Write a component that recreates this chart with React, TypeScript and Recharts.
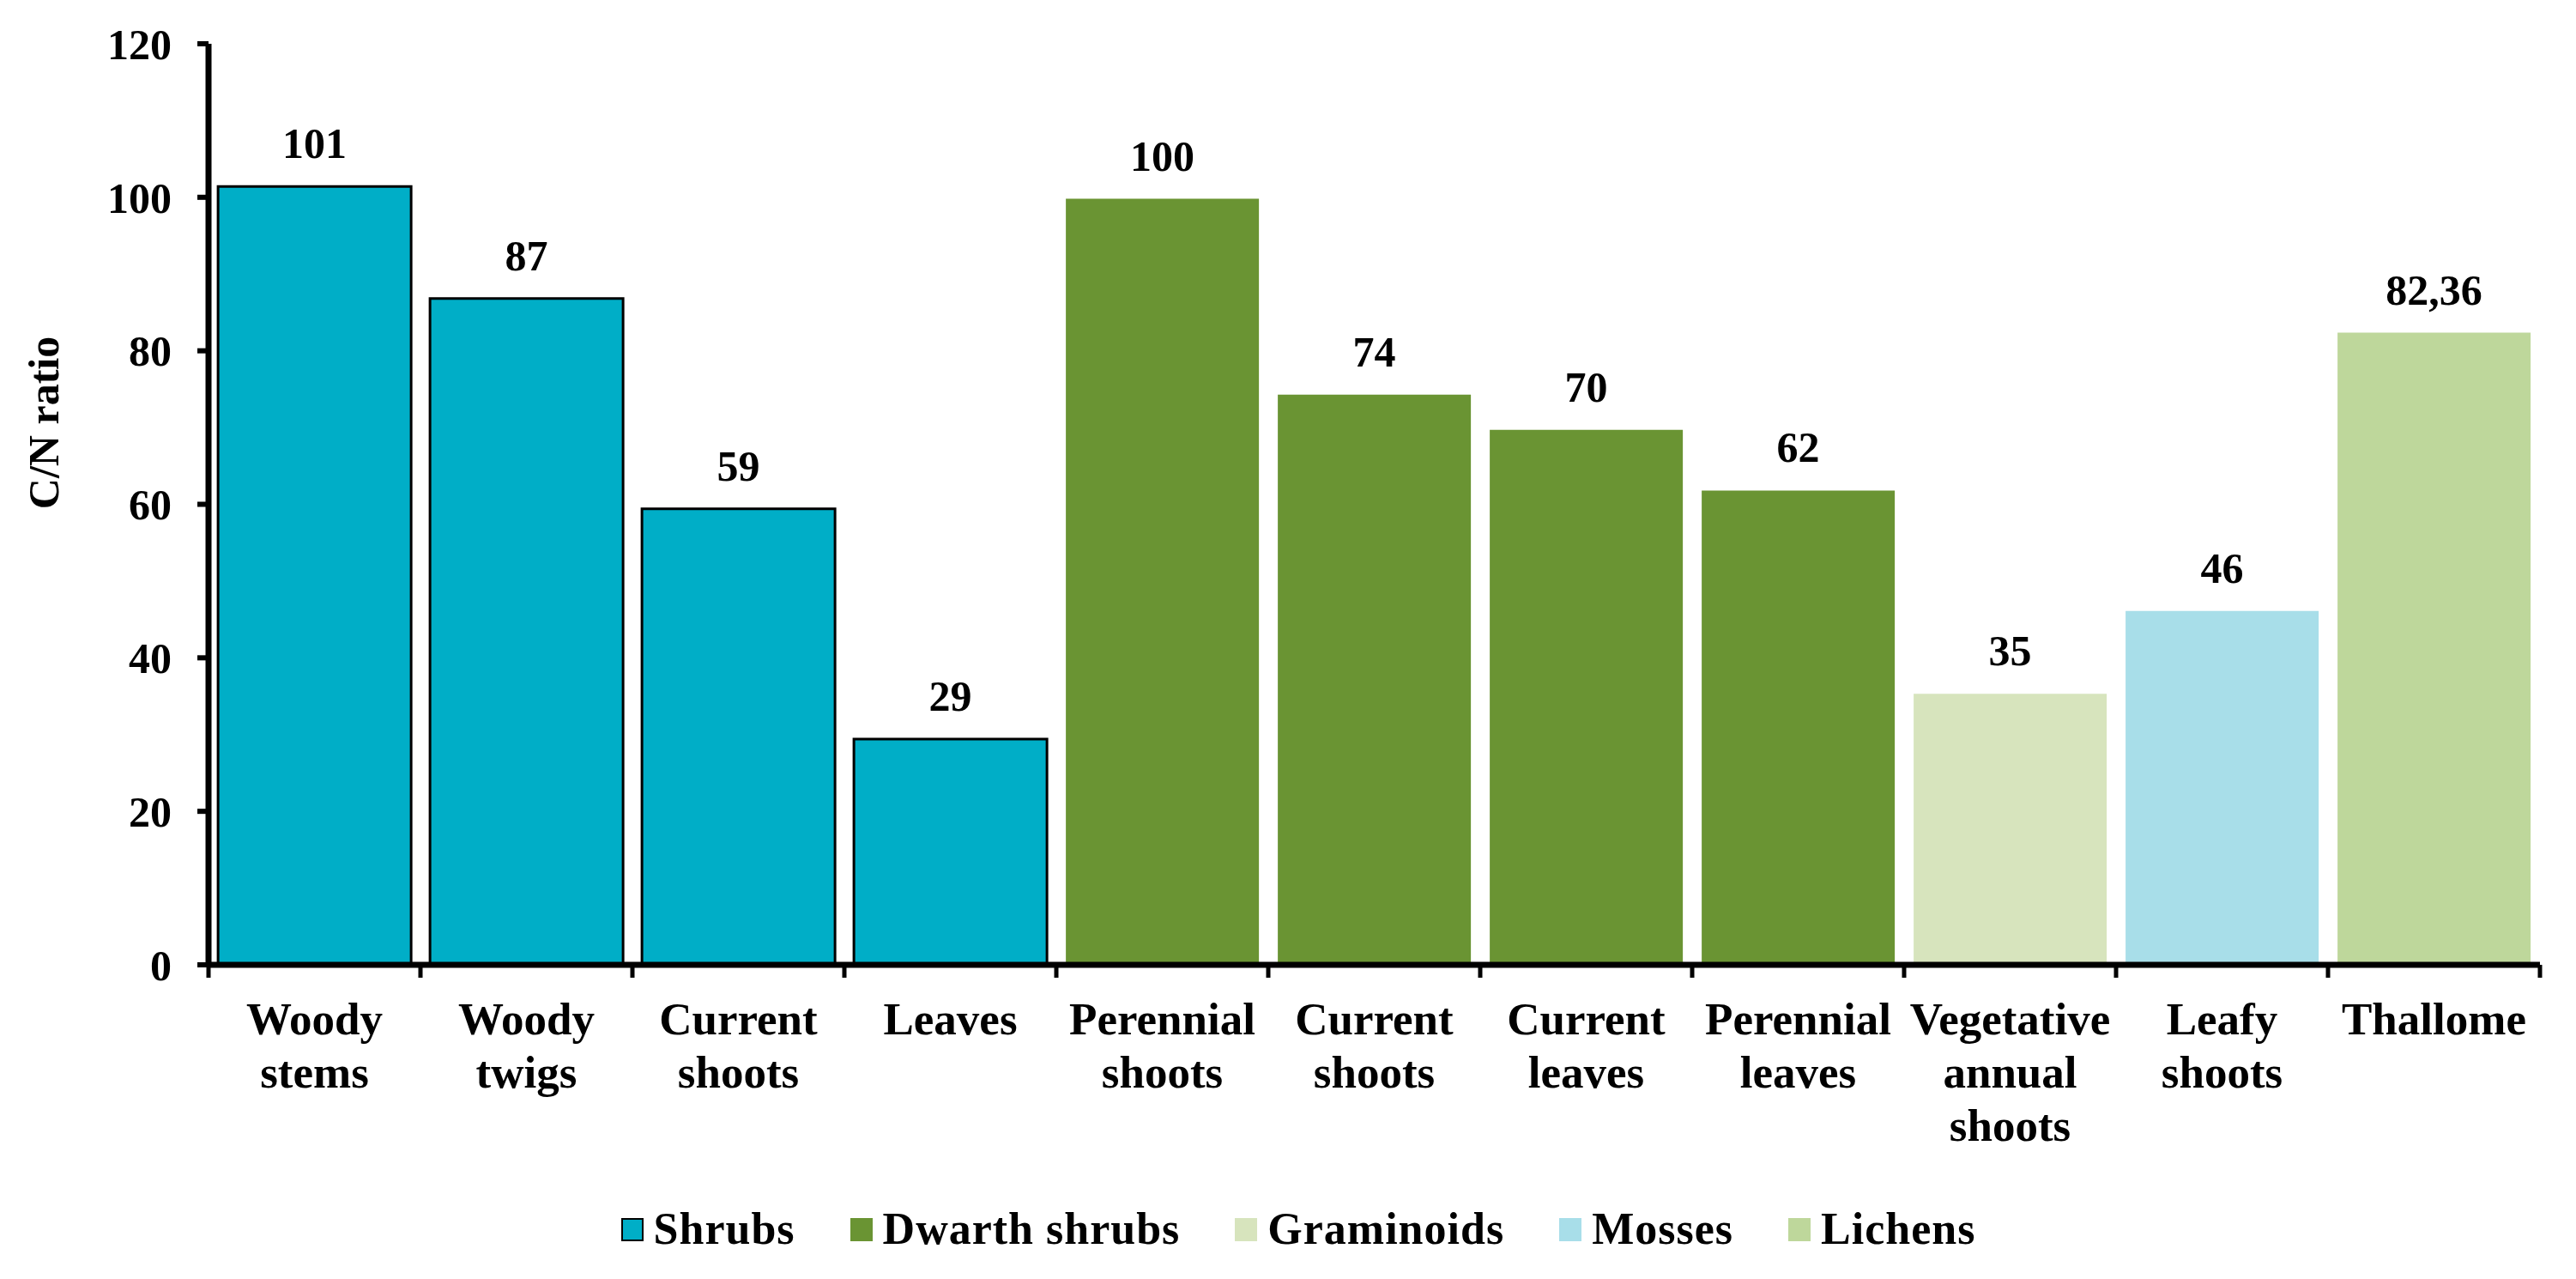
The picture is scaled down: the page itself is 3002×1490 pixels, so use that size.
import React from 'react';
import { BarChart, Bar, XAxis, YAxis, Cell, LabelList, Legend } from 'recharts';

const categories = [
  'Woody\nstems',
  'Woody\ntwigs',
  'Current\nshoots',
  'Leaves',
  'Perennial\nshoots',
  'Current\nshoots',
  'Current\nleaves',
  'Perennial\nleaves',
  'Vegetative\nannual\nshoots',
  'Leafy\nshoots',
  'Thallome',
];
const values = [101.4, 86.8, 59.4, 29.4, 99.8, 74.3, 69.7, 61.8, 35.3, 46.1, 82.36];
const valueLabels = ['101', '87', '59', '29', '100', '74', '70', '62', '35', '46', '82,36'];
const groupOf = [0, 0, 0, 0, 1, 1, 1, 1, 2, 3, 4];
const groupNames = ['Shrubs', 'Dwarth shrubs', 'Graminoids', 'Mosses', 'Lichens'];
const groupColors = ['#00AEC7', '#6A9433', '#D7E4BD', '#A8DEE9', '#BED79B'];
const groupOutline = ['#000000', 'none', 'none', 'none', 'none'];
const yTicks = [0, 20, 40, 60, 80, 100, 120];

const FONT = '"Liberation Serif", "Times New Roman", serif';

const data = categories.map((name, i) => ({
  name,
  value: values[i],
  label: valueLabels[i],
  group: groupOf[i],
}));

const XTick = (props: any) => {
  const { x, y, payload, index } = props;
  const lines = String(payload.value).split('\n');
  const half = typeof payload.offset === 'number' ? payload.offset : 123;
  const axisY = y - 16;
  return (
    <g>
      <line x1={x - half} x2={x - half} y1={axisY} y2={axisY + 15} stroke="#000" strokeWidth={5} />
      {index === categories.length - 1 && (
        <line x1={x + half} x2={x + half} y1={axisY} y2={axisY + 15} stroke="#000" strokeWidth={5} />
      )}
      <text
        x={x}
        y={y + 65}
        textAnchor="middle"
        fontFamily={FONT}
        fontWeight="bold"
        fontSize={53}
        fill="#000"
      >
        {lines.map((l, i) => (
          <tspan key={i} x={x} dy={i === 0 ? 0 : 62}>
            {l}
          </tspan>
        ))}
      </text>
    </g>
  );
};

const YLabel = (props: any) => {
  const vb = props.viewBox || { x: 0, y: 0, width: 0, height: 0 };
  const cx = vb.x + 60;
  const cy = vb.y + vb.height / 2 - 95;
  return (
    <text
      x={cx}
      y={cy}
      transform={`rotate(-90, ${cx}, ${cy})`}
      textAnchor="middle"
      fontFamily={FONT}
      fontWeight="bold"
      fontSize={50}
      fill="#000"
    >
      C/N ratio
    </text>
  );
};

const LegendContent = () => (
  <div
    style={{
      height: 118,
      display: 'flex',
      justifyContent: 'center',
      alignItems: 'flex-start',
      paddingTop: 40,
      paddingLeft: 58,
      boxSizing: 'border-box',
      fontFamily: FONT,
      fontWeight: 'bold',
      fontSize: 52,
      lineHeight: '56px',
      color: '#000',
    }}
  >
    {groupNames.map((n, i) => (
      <div
        key={n}
        style={{ display: 'flex', alignItems: 'center', marginRight: i === groupNames.length - 1 ? 0 : 64 }}
      >
        <span
          style={{
            display: 'inline-block',
            width: 26,
            height: 27,
            background: groupColors[i],
            border: groupOutline[i] === 'none' ? 'none' : `2px solid ${groupOutline[i]}`,
            boxSizing: 'border-box',
            marginRight: 12,
          }}
        />
        <span style={{ letterSpacing: 1 }}>{n}</span>
      </div>
    ))}
  </div>
);

export default function App() {
  return (
    <BarChart
      width={2986}
      height={1474}
      data={data}
      margin={{ top: 43, right: 34, left: 0, bottom: 0 }}
      barCategoryGap="4.5%"
    >
      <XAxis
        dataKey="name"
        interval={0}
        tick={<XTick />}
        tickLine={false}
        tickSize={14}
        tickMargin={2}
        axisLine={{ stroke: '#000', strokeWidth: 7 }}
        height={240}
      />
      <YAxis
        type="number"
        domain={[0, 120]}
        ticks={yTicks}
        interval={0}
        width={235}
        tickSize={13}
        tickMargin={30}
        tickLine={{ stroke: '#000', strokeWidth: 6 }}
        axisLine={{ stroke: '#000', strokeWidth: 7 }}
        tick={{ fontFamily: FONT, fontWeight: 'bold', fontSize: 50, fill: '#000' }}
        label={<YLabel />}
      />
      <Legend verticalAlign="bottom" height={118} content={<LegendContent />} />
      <Bar dataKey="value" isAnimationActive={false}>
        {data.map((d, i) => (
          <Cell
            key={i}
            fill={groupColors[d.group]}
            stroke={groupOutline[d.group]}
            strokeWidth={groupOutline[d.group] === 'none' ? 0 : 3}
          />
        ))}
        <LabelList
          dataKey="label"
          position="top"
          offset={33}
          fontFamily={FONT}
          fontWeight="bold"
          fontSize={50}
          fill="#000"
        />
      </Bar>
    </BarChart>
  );
}
